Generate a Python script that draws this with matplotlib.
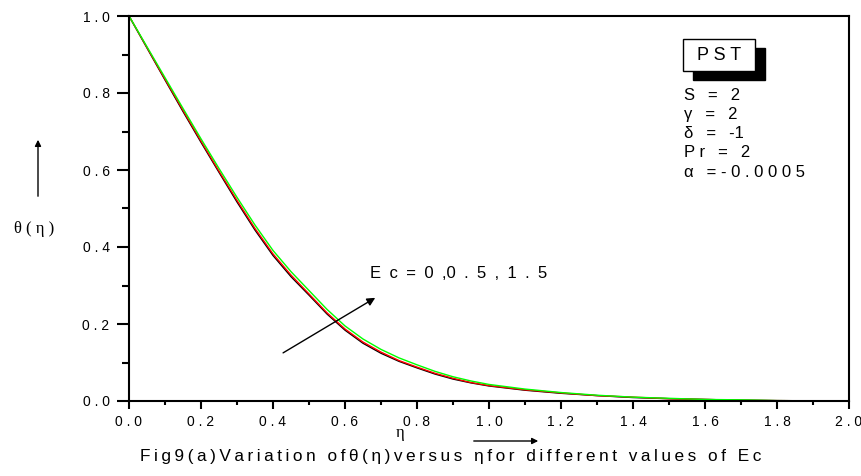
import matplotlib
matplotlib.use("Agg")
import matplotlib.pyplot as plt
from matplotlib.patches import Rectangle, FancyArrowPatch
from matplotlib.ticker import MultipleLocator, FixedLocator, FixedFormatter

plt.rcParams["font.family"] = ["Liberation Sans", "DejaVu Sans"]

# data
eta = [0.0, 0.05, 0.1, 0.15, 0.2, 0.25, 0.3, 0.35, 0.4, 0.45, 0.5,
       0.55, 0.6, 0.65, 0.7, 0.75, 0.8, 0.85, 0.9, 0.95, 1.0,
       1.1, 1.2, 1.3, 1.4, 1.5, 1.6, 1.7, 1.8, 1.9, 2.0]
theta_ec0 = [1.0, 0.917, 0.834, 0.752, 0.672, 0.594, 0.517, 0.444, 0.378, 0.323, 0.275,
             0.226, 0.184, 0.150, 0.124, 0.103, 0.086, 0.070, 0.057, 0.047, 0.039,
             0.028, 0.020, 0.014, 0.009, 0.006, 0.004, 0.002, 0.001, 0.0005, 0.0]
theta_ec05 = [1.0, 0.918, 0.836, 0.755, 0.675, 0.597, 0.521, 0.448, 0.382, 0.327, 0.278,
              0.229, 0.187, 0.153, 0.127, 0.105, 0.088, 0.072, 0.059, 0.048, 0.040,
              0.029, 0.021, 0.014, 0.010, 0.006, 0.004, 0.002, 0.001, 0.0005, 0.0]
theta_ec15 = [1.0, 0.920, 0.840, 0.760, 0.681, 0.604, 0.529, 0.457, 0.391, 0.336, 0.287,
              0.238, 0.195, 0.161, 0.134, 0.112, 0.094, 0.077, 0.063, 0.052, 0.043,
              0.031, 0.022, 0.015, 0.010, 0.007, 0.004, 0.003, 0.001, 0.0005, 0.0]
series = [("Ec = 0", theta_ec0, "black"),
          ("Ec = 0.5", theta_ec05, "red"),
          ("Ec = 1.5", theta_ec15, "#00ff00")]

xticks = [0.0, 0.2, 0.4, 0.6, 0.8, 1.0, 1.2, 1.4, 1.6, 1.8, 2.0]
yticks = [0.0, 0.2, 0.4, 0.6, 0.8, 1.0]
params = ["S\u2002 =\u2002 2", "\u03b3\u2002 =\u2002 2", "\u03b4\u2002 =\u2002 -1",
          "P r\u2002 =\u2002 2", "\u03b1\u2002 = - 0 . 0 0 0 5"]


def spaced(v):
    return " . ".join(f"{v:.1f}".split("."))


W, H = 862, 476
fig = plt.figure(figsize=(W / 100, H / 100), dpi=100)
ax = fig.add_axes([129 / W, 1 - 401 / H, (849 - 129) / W, (401 - 16) / H])

for name, vals, col in series:
    ax.plot(eta, vals, color=col, lw=1.0, label=name)

ax.set_xlim(0, 2.0)
ax.set_ylim(0, 1.0)
ax.xaxis.set_major_locator(FixedLocator(xticks))
ax.xaxis.set_major_formatter(FixedFormatter([spaced(v) for v in xticks]))
ax.yaxis.set_major_locator(FixedLocator(yticks))
ax.yaxis.set_major_formatter(FixedFormatter([spaced(v) for v in yticks]))
ax.xaxis.set_minor_locator(MultipleLocator(0.1))
ax.yaxis.set_minor_locator(MultipleLocator(0.1))
ax.tick_params(axis="x", which="major", direction="out", length=6, width=1.5, labelsize=10, pad=4)
ax.tick_params(axis="x", which="minor", direction="out", length=3, width=1.5)
ax.tick_params(axis="y", which="major", direction="out", length=9, width=1.5, labelsize=10, pad=5)
ax.tick_params(axis="y", which="minor", direction="out", length=5, width=1.5)
for sp in ax.spines.values():
    sp.set_linewidth(1.5)

# Ec annotation with arrow
ax.annotate("", xy=(0.684, 0.268), xytext=(0.428, 0.125),
            arrowprops=dict(arrowstyle="-|>", color="black", lw=1.0,
                            mutation_scale=12, shrinkA=0, shrinkB=0))
ax.text(0.67, 0.33, "E\u2002c\u2002=\u20020\u2002,0\u2002.\u20025\u2002,\u20021\u2002.\u20025",
        fontsize=12, ha="left", va="center")

# PST box with shadow
ax.add_patch(Rectangle(((693 - 129) / 720, (401 - 80) / 385), 72 / 720, 32 / 385,
                       transform=ax.transAxes, facecolor="black", edgecolor="black", zorder=4))
ax.add_patch(Rectangle(((683 - 129) / 720, (401 - 71) / 385), 72 / 720, 32 / 385,
                       transform=ax.transAxes, facecolor="white", edgecolor="black",
                       lw=1.0, zorder=5))
fig.text(719 / W, 1 - 55 / H, "P S T", fontsize=13, ha="center", va="center", zorder=6)
for i, p in enumerate(params):
    fig.text(684 / W, 1 - (95 + i * 19.3) / H, p, fontsize=12, ha="left", va="center")

# y label with arrow
fig.text(34 / W, 1 - 229 / H, "\u03b8 ( \u03b7 )", fontsize=12, ha="center", va="center",
         family="Liberation Serif")
fig.patches.append(FancyArrowPatch(
    (38 / W, 1 - 199 / H), (38 / W, 1 - 137 / H), transform=fig.transFigure,
    arrowstyle="-|>", mutation_scale=9, lw=1.0, color="black"))

# x label with arrow
fig.text(400 / W, 1 - 433 / H, "\u03b7", fontsize=12, ha="center", va="center",
         family="Liberation Serif")
fig.patches.append(FancyArrowPatch(
    (471 / W, 1 - 441 / H), (541 / W, 1 - 441 / H), transform=fig.transFigure,
    arrowstyle="-|>", mutation_scale=9, lw=1.0, color="black"))

caption = "\u2009".join("Fig9(a)Variation of\u03b8(\u03b7)versus \u03b7for different values of Ec")
fig.text(451 / W, 1 - 457 / H, caption, fontsize=12.4, ha="center", va="center")

fig.savefig("out.png", dpi=100)
